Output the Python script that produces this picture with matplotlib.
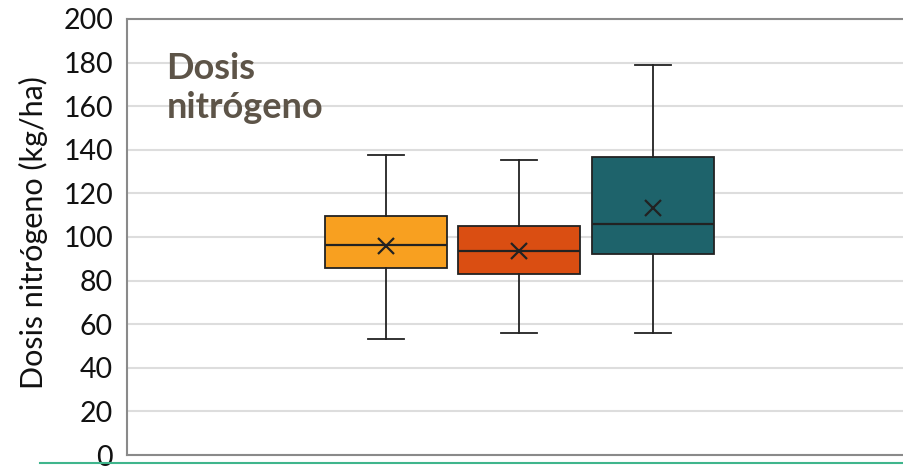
import matplotlib
matplotlib.use('Agg')
import matplotlib.pyplot as plt
from matplotlib.lines import Line2D

plt.rcParams['font.family'] = ['Lato', 'DejaVu Sans']

# box statistics (kg/ha)
labels = ['A', 'B', 'C']
whislo = [53, 56, 56]
q1 = [86, 83, 92]
med = [96.5, 93.5, 106]
q3 = [109.5, 105, 136.5]
whishi = [137.5, 135.5, 179]
means = [95.8, 93.8, 113.5]
colors = ['#F8A020', '#DA4E12', '#1E636B']
yticks = list(range(0, 201, 20))

stats = []
for i in range(len(labels)):
    stats.append(dict(label=labels[i], whislo=whislo[i], q1=q1[i], med=med[i],
                      q3=q3[i], whishi=whishi[i], mean=means[i], fliers=[]))

fig = plt.figure(figsize=(9.04, 4.68), dpi=100)
ax = fig.add_axes([127/904, 1-455/468, 1-127/904 + 0.01, (455-19)/468])

bp = ax.bxp(stats, positions=[1, 2, 3], widths=0.915, patch_artist=True,
            showmeans=True, capwidths=0.27,
            medianprops=dict(color='#222222', lw=1.6),
            whiskerprops=dict(color='#222222', lw=1.3),
            capprops=dict(color='#222222', lw=1.3),
            boxprops=dict(edgecolor='#222222', lw=1.3),
            meanprops=dict(marker='x', markeredgecolor='#222222', markersize=11,
                           markeredgewidth=1.6))
for patch, c in zip(bp['boxes'], colors):
    patch.set_facecolor(c)

ax.set_ylim(0, 200)
ax.set_xlim(-0.94, 4.95)
ax.set_yticks(yticks)
ax.set_xticks([])
ax.tick_params(axis='y', length=0, labelsize=20.5, pad=10, labelcolor='#111111')
ax.yaxis.grid(True, color='#dddddd', lw=1.5)
ax.set_axisbelow(True)
for s in ['left', 'top', 'bottom']:
    ax.spines[s].set_color('#8a8a8a')
    ax.spines[s].set_linewidth(1.5)
ax.spines['right'].set_visible(False)

ax.set_ylabel('Dosis nitrógeno (kg/ha)', fontsize=22, color='#111111')
ax.yaxis.set_label_coords(-0.1, 0.51)
ax.text(-0.645, 185, 'Dosis\nnitrógeno', fontsize=26, fontweight='bold',
        color='#5d5448', va='top', ha='left', linespacing=1.22)

fig.add_artist(Line2D([40/904, 1], [1-463/468, 1-463/468], color='#3fb58c', lw=1.5))

fig.savefig('out.png', dpi=100)
